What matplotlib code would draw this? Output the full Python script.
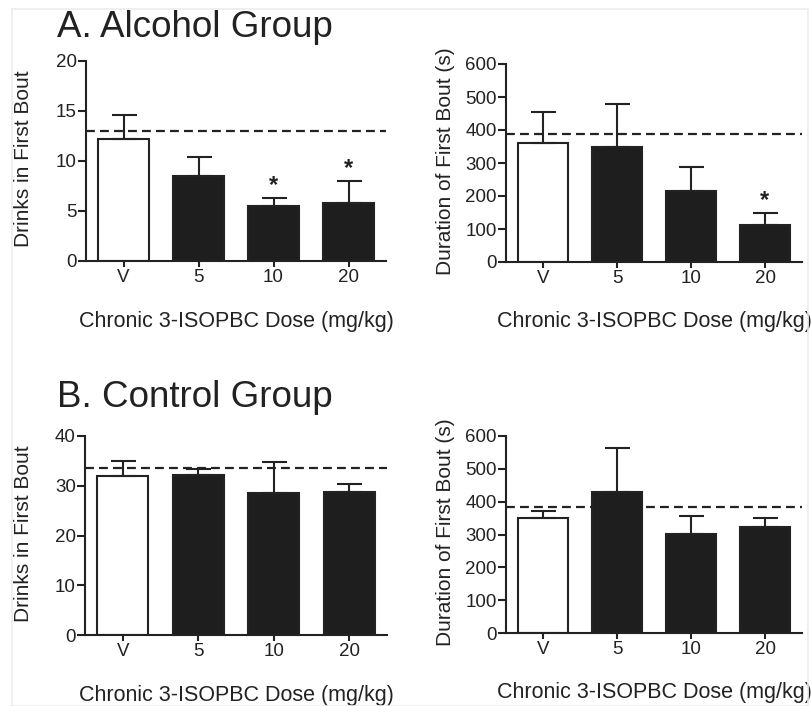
import matplotlib
matplotlib.use("Agg")
import matplotlib.pyplot as plt
from matplotlib.patches import Rectangle

plt.rcParams['font.family'] = ['Liberation Sans', 'DejaVu Sans']

categories = ['V', '5', '10', '20']

alc_drinks = [12.2, 8.5, 5.5, 5.8]
alc_drinks_sem = [2.4, 1.9, 0.8, 2.2]
alc_drinks_ref = 13.0
alc_drinks_sig = [False, False, True, True]

alc_dur = [360, 348, 216, 112]
alc_dur_sem = [96, 131, 73, 35]
alc_dur_ref = 387
alc_dur_sig = [False, False, False, True]

ctl_drinks = [31.9, 32.1, 28.6, 28.8]
ctl_drinks_sem = [3.1, 1.3, 6.1, 1.6]
ctl_drinks_ref = 33.5
ctl_drinks_sig = [False, False, False, False]

ctl_dur = [349, 428, 301, 323]
ctl_dur_sem = [23, 134, 56, 27]
ctl_dur_ref = 384
ctl_dur_sig = [False, False, False, False]

TXT = '#222222'
DARK = '#1e1e1e'
W, H = 811, 706

fig = plt.figure(figsize=(W / 100, H / 100), dpi=100)
fig.patch.set_facecolor('white')
fig.patches.append(Rectangle((12 / W, 0), (808 - 12) / W, 1 - 9 / H,
                             transform=fig.transFigure, fill=False,
                             edgecolor='#ececec', linewidth=1.2))


def add_ax(l, r, t, b):
    return fig.add_axes([l / W, 1 - b / H, (r - l) / W, (b - t) / H])


def panel(ax, vals, sem, ref, sig, ymax, ystep, ylabel, ylab_x):
    x = list(range(len(categories)))
    colors = ['white'] + [DARK] * (len(categories) - 1)
    ax.axhline(ref, color=TXT, lw=1.6, linestyle=(0, (4, 2.3)), zorder=1)
    ax.bar(x, vals, width=0.68, color=colors, edgecolor=TXT, linewidth=1.5,
           zorder=2)
    ax.errorbar(x, vals, yerr=[[0] * len(vals), sem], fmt='none',
                ecolor=TXT, elinewidth=1.5, capsize=9, capthick=1.5, zorder=3)
    for xi, v, s, g in zip(x, vals, sem, sig):
        if g:
            ax.annotate('*', (xi, v + s), xytext=(0, 1), textcoords='offset points',
                        ha='center', va='bottom', fontsize=17, color=TXT,
                        fontweight='bold')
    ax.set_xlim(-0.5, 3.5)
    ax.set_ylim(0, ymax)
    ax.set_yticks(range(0, ymax + 1, ystep))
    ax.set_xticks(x)
    ax.set_xticklabels(categories)
    for s in ['top', 'right']:
        ax.spines[s].set_visible(False)
    for s in ['left', 'bottom']:
        ax.spines[s].set_linewidth(1.5)
        ax.spines[s].set_color(TXT)
    ax.tick_params(axis='y', direction='out', length=5.5, width=1.5,
                   color=TXT, labelcolor=TXT, labelsize=13.5, pad=1)
    ax.tick_params(axis='x', direction='out', length=4.5, width=1.5,
                   color=TXT, labelcolor=TXT, labelsize=13.5, pad=1.5)
    ax.set_ylabel(ylabel, fontsize=15, color=TXT)
    ax.yaxis.set_label_coords(ylab_x, 0.51)
    ax.set_xlabel('Chronic 3-ISOPBC Dose (mg/kg)', fontsize=15.5, color=TXT)
    ax.xaxis.set_label_coords(0.5, -0.25)


ax1 = add_ax(86, 386, 61, 261)
panel(ax1, alc_drinks, alc_drinks_sem, alc_drinks_ref, alc_drinks_sig,
      20, 5, 'Drinks in First Bout', -0.177)

ax2 = add_ax(506, 802, 64, 262)
panel(ax2, alc_dur, alc_dur_sem, alc_dur_ref, alc_dur_sig,
      600, 100, 'Duration of First Bout (s)', -0.172)

ax3 = add_ax(85, 387, 436, 635)
panel(ax3, ctl_drinks, ctl_drinks_sem, ctl_drinks_ref, ctl_drinks_sig,
      40, 10, 'Drinks in First Bout', -0.172)

ax4 = add_ax(506, 802, 436, 633)
panel(ax4, ctl_dur, ctl_dur_sem, ctl_dur_ref, ctl_dur_sig,
      600, 100, 'Duration of First Bout (s)', -0.172)

fig.text(57 / W, 1 - 36.7 / H, 'A. Alcohol Group', fontsize=26.5, color=TXT,
         ha='left', va='baseline')
fig.text(57 / W, 1 - 406.7 / H, 'B. Control Group', fontsize=26.5, color=TXT,
         ha='left', va='baseline')

fig.savefig('out.png', dpi=100, facecolor='white')
